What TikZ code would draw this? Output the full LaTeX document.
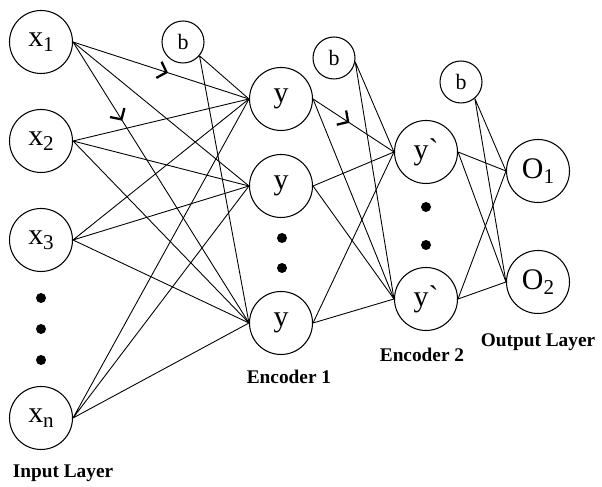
\documentclass[tikz,border=0pt]{standalone}
\usepackage{fontspec}
\setmainfont{Liberation Serif}
\usetikzlibrary{arrows.meta,decorations.markings}
\tikzset{
	neuron/.style={draw, circle, line width=0.6pt, minimum size=1.26cm, inner sep=0pt, font=\fontsize{17}{17}\selectfont},
	bias/.style={draw, circle, line width=0.6pt, minimum size=0.84cm, inner sep=0pt, font=\fontsize{12.5}{12.5}\selectfont},
	conn/.style={line width=0.5pt},
	layerlabel/.style={font=\fontsize{11}{11}\selectfont\bfseries},
	midarrow/.style={postaction={decorate}, decoration={markings, mark=at position #1 with {\arrow{Straight Barb[length=1.6mm,width=3.4mm,line width=1.3pt]}}}}
}
\newcommand{\nsub}[1]{\raisebox{-0.35ex}{\fontsize{12}{12}\selectfont #1}}
\begin{document}
\begin{tikzpicture}
			\useasboundingbox (0,0) rectangle (12.04,9.74);
			%Input layer
			\node[neuron] (x1) at (0.82,8.90) {x\nsub{1}};
			\node[neuron] (x2) at (0.82,6.92) {x\nsub{2}};
			\node[neuron] (x3) at (0.82,4.94) {x\nsub{3}};
			\node[neuron] (xn) at (0.82,1.38) {x\nsub{n}};
			\fill (0.82,3.78) circle (0.1) (0.82,3.16) circle (0.1) (0.82,2.54) circle (0.1);
			\node[layerlabel] (inlabel) at (1.26,0.28) {Input Layer};
			%Encoder 1
			\node[bias] (b1) at (3.66,8.90) {b};
			\node[neuron] (y1) at (5.62,7.76) {y};
			\node[neuron] (y2) at (5.62,6.02) {y};
			\node[neuron] (y3) at (5.62,3.28) {y};
			\fill (5.64,4.98) circle (0.1) (5.64,4.38) circle (0.1);
			\node[layerlabel] (enc1label) at (5.78,2.20) {Encoder 1};
			%Encoder 2
			\node[bias] (b2) at (6.68,8.58) {b};
			\node[neuron] (yp1) at (8.52,6.70) {y\textasciigrave};
			\node[neuron] (yp2) at (8.52,3.76) {y\textasciigrave};
			\fill (8.52,5.60) circle (0.1) (8.52,4.84) circle (0.1);
			\node[layerlabel] (enc2label) at (8.44,2.64) {Encoder 2};
			%Output layer
			\node[bias] (b3) at (9.22,8.10) {b};
			\node[neuron] (o1) at (10.76,6.32) {O\nsub{1}};
			\node[neuron] (o2) at (10.76,4.10) {O\nsub{2}};
			\node[layerlabel] (outlabel) at (10.76,2.90) {Output Layer};
			%Input to encoder 1
			\draw[conn, midarrow=0.54] (x1.east) -- (y1.west);
			\draw[conn] (x1.east) -- (y2.west);
			\draw[conn, midarrow=0.28] (x1.east) -- (y3.west);
			\draw[conn] (x2.east) -- (y1.west) (x2.east) -- (y2.west) (x2.east) -- (y3.west);
			\draw[conn] (x3.east) -- (y1.west) (x3.east) -- (y2.west) (x3.east) -- (y3.west);
			\draw[conn] (xn.east) -- (y1.west) (xn.east) -- (y2.west) (xn.east) -- (y3.west);
			\draw[conn] (b1.-40) -- (y1.west) (b1.-40) -- (y3.west);
			%Encoder 1 to encoder 2
			\draw[conn, midarrow=0.45] (y1.east) -- (yp1.west);
			\draw[conn] (y1.east) -- (yp2.west);
			\draw[conn] (y2.east) -- (yp1.west) (y2.east) -- (yp2.west);
			\draw[conn] (y3.east) -- (yp1.west) (y3.east) -- (yp2.west);
			\draw[conn] (b2.-10) -- (yp1.west) (b2.-10) -- (yp2.west);
			%Encoder 2 to output
			\draw[conn] (yp1.east) -- (o1.west) (yp1.east) -- (o2.west);
			\draw[conn] (yp2.east) -- (o1.west) (yp2.east) -- (o2.west);
			\draw[conn] (b3.-50) -- (o1.west) (b3.-50) -- (o2.west);
\end{tikzpicture}
\end{document}
